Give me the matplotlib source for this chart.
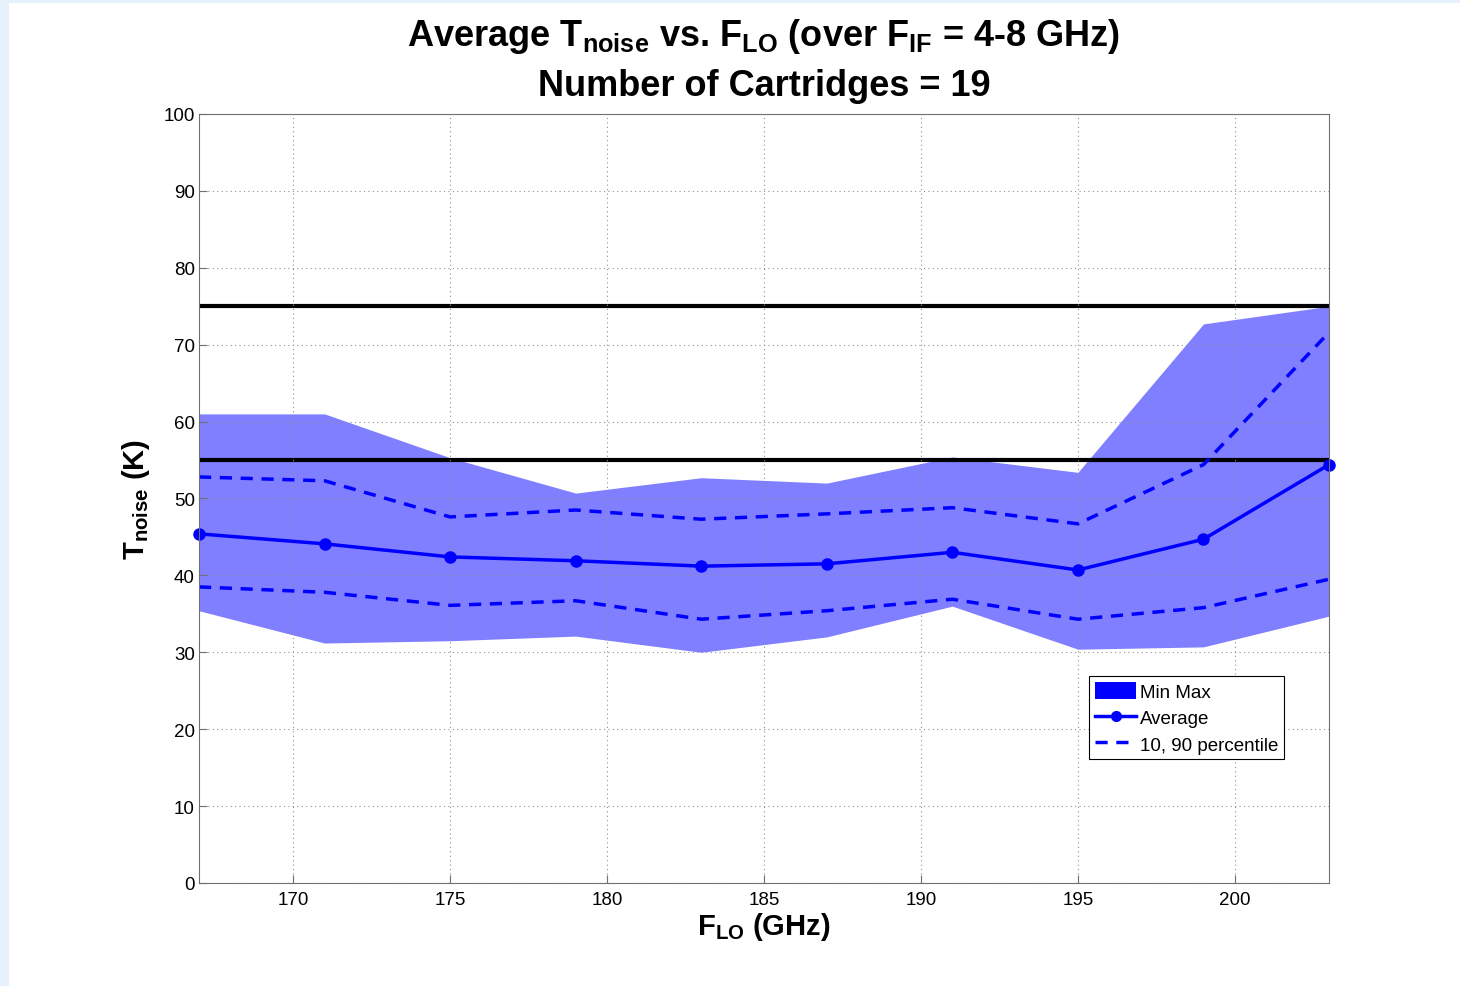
import matplotlib
matplotlib.use("Agg")
from matplotlib import pyplot as plt
from matplotlib.patches import Patch, Rectangle
from matplotlib.lines import Line2D

plt.rcParams["font.family"] = ["Liberation Sans", "DejaVu Sans"]
plt.rcParams["mathtext.fontset"] = "custom"
plt.rcParams["mathtext.rm"] = "Liberation Sans:bold"
plt.rcParams["mathtext.bf"] = "Liberation Sans:bold"
plt.rcParams["mathtext.it"] = "Liberation Sans:bold"

# LO frequencies (GHz)
f_lo = [167, 171, 175, 179, 183, 187, 191, 195, 199, 203]

# noise temperature stats (K)
t_avg = [45.4, 44.1, 42.4, 41.9, 41.2, 41.5, 43.0, 40.7, 44.7, 54.4]
t_max = [61.0, 61.0, 55.3, 50.7, 52.7, 52.0, 55.4, 53.4, 72.7, 75.0]
t_min = [35.4, 31.2, 31.5, 32.1, 30.0, 32.0, 36.0, 30.4, 30.7, 34.7]
t_p90 = [52.8, 52.3, 47.6, 48.5, 47.3, 48.0, 48.8, 46.7, 54.4, 71.6]
t_p10 = [38.5, 37.8, 36.1, 36.7, 34.3, 35.4, 36.9, 34.3, 35.8, 39.5]

spec_lines = [55, 75]

fig = plt.figure(figsize=(14.6, 9.87), dpi=100)
fig.patch.set_facecolor("#e6f1fc")
bg = Rectangle((9 / 1460, 0), 1 - 9 / 1460, 1 - 4 / 987,
               transform=fig.transFigure, facecolor="white", edgecolor="none")
bg.set_zorder(-10)
fig.add_artist(bg)

ax = fig.add_axes([0.1363, 0.1044, 0.774, 0.7791])
ax.set_zorder(1)

ax.fill_between(f_lo, t_min, t_max, color="#0000ff", alpha=0.5, linewidth=0, zorder=1)
for y in spec_lines:
    ax.axhline(y, color="black", linewidth=3, zorder=2)
ax.plot(f_lo, t_p90, "--", color="#0000ff", linewidth=2.5, dashes=(3.5, 2.5), zorder=3)
ax.plot(f_lo, t_p10, "--", color="#0000ff", linewidth=2.5, dashes=(3.5, 2.5), zorder=3)
ax.plot(f_lo, t_avg, "-o", color="#0000ff", linewidth=2.5, markersize=8,
        zorder=4, clip_on=False)

ax.set_xlim(167, 203)
ax.set_ylim(0, 100)
ax.set_xticks([170, 175, 180, 185, 190, 195, 200])
ax.set_yticks(range(0, 101, 10))
ax.grid(True, linestyle=(0, (1, 3)), color="#909090", linewidth=0.8)
ax.set_axisbelow(False)
ax.tick_params(direction="in", labelsize=13.5, length=6, color="#707070")
ax.tick_params(axis="y", pad=3)
ax.tick_params(axis="x", pad=6)
for s in ax.spines.values():
    s.set_color("#707070")
    s.set_zorder(5)

ax.set_xlabel(r"F$_{\mathrm{LO}}$ (GHz)", fontsize=21, fontweight="bold", labelpad=1)
ax.set_ylabel(r"T$_{\mathrm{noise}}$ (K)", fontsize=21, fontweight="bold", labelpad=8)
ax.set_title("Average T$_{\\mathrm{noise}}$ vs. F$_{\\mathrm{LO}}$ (over F$_{\\mathrm{IF}}$ = 4-8 GHz)\n"
             "Number of Cartridges = 19",
             fontsize=26, fontweight="bold", pad=14, linespacing=1.45)

handles = [
    Patch(facecolor="#0000ff", edgecolor="none"),
    Line2D([], [], color="#0000ff", marker="o", linewidth=2.5, markersize=7),
    Line2D([], [], color="#0000ff", linestyle="--", linewidth=2.5, dashes=(3.5, 2.5)),
]
leg = ax.legend(handles, ["Min Max", "Average", "10, 90 percentile"],
                loc="lower left", bbox_to_anchor=(0.788, 0.161),
                fontsize=13.5, fancybox=False, framealpha=1,
                edgecolor="black", handlelength=2.2, handleheight=1.0,
                handletextpad=0.2, borderpad=0.3, labelspacing=0.4,
                borderaxespad=0)
leg.get_frame().set_linewidth(0.8)

fig.savefig("out.png", dpi=100)
